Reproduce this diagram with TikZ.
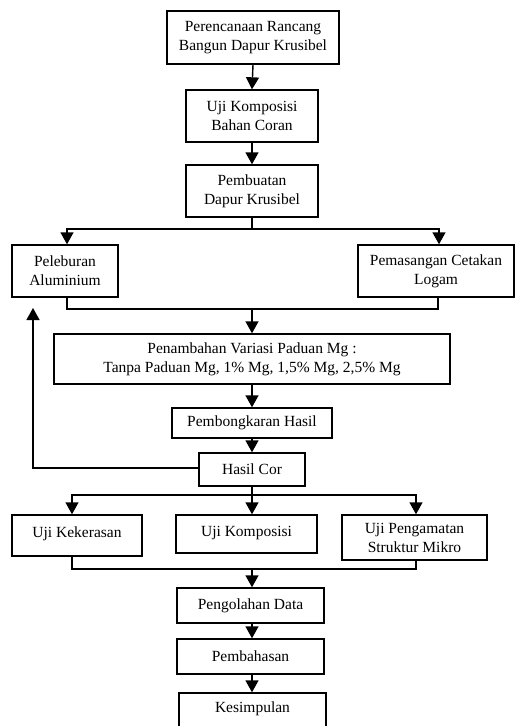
\documentclass[tikz,border=0pt]{standalone}
\usepackage{fontspec}
\setmainfont{Liberation Serif}
\usetikzlibrary{arrows.meta,calc}
\begin{document}
\begin{tikzpicture}[x=1pt,y=-1pt,
  box/.style={draw,line width=1.4pt,rectangle,inner sep=0pt,align=center,
    font=\fontsize{15.5}{19}\selectfont},
  arr/.style={line width=1.4pt,-{Triangle[width=13pt,length=12pt]}},
  ln/.style={line width=1.4pt}]
\useasboundingbox (0,0) rectangle (515,726);
\clip (0,0) rectangle (515,726);
\fill[white] (0,0) rectangle (515,726);
\node[box,minimum width=172pt,minimum height=53pt] (b1) at (253,37.5) {Perencanaan Rancang\\Bangun Dapur Krusibel};
\node[box,minimum width=132pt,minimum height=52pt] (b2) at (252,116) {Uji Komposisi\\Bahan Coran};
\node[box,minimum width=132pt,minimum height=52pt] (b3) at (252,191) {Pembuatan\\Dapur Krusibel};
\node[box,minimum width=106pt,minimum height=52pt] (pel) at (65,271) {Peleburan\\Aluminium};
\node[box,minimum width=156pt,minimum height=52pt] (pem) at (436,271) {Pemasangan Cetakan\\Logam};
\node[box,minimum width=396pt,minimum height=50pt] (pen) at (252,359) {Penambahan Variasi Paduan Mg :\\Tanpa Paduan Mg, 1\% Mg, 1,5\% Mg, 2,5\% Mg};
\node[box,minimum width=160pt,minimum height=30pt] (pbk) at (252,423) {Pembongkaran Hasil};
\node[box,minimum width=106pt,minimum height=33pt] (hc) at (252,469.5) {Hasil Cor};
\node[box,minimum width=130pt,minimum height=41pt,text height=15pt,text depth=12pt] (kek) at (77,535.5) {Uji Kekerasan};
\node[box,minimum width=141pt,minimum height=38pt,text height=15pt,text depth=11pt] (kom) at (246.5,534) {Uji Komposisi};
\node[box,minimum width=145pt,minimum height=45pt] (pgm) at (414.5,537.5) {Uji Pengamatan\\Struktur Mikro};
\node[box,minimum width=147pt,minimum height=35pt] (pd) at (250.5,605.5) {Pengolahan Data};
\node[box,minimum width=147pt,minimum height=35pt] (pb) at (250.5,656.5) {Pembahasan};
\node[box,minimum width=147pt,minimum height=44pt,text height=12pt,text depth=18pt] (ks) at (252.5,715) {Kesimpulan};
% connectors
\draw[arr] (b1.south) -- (b2.north);
\draw[arr] (b2.south) -- (b3.north);
\coordinate (j1) at (252,229);
\draw[ln] (b3.south) -- (j1);
\draw[arr] (j1) -| ($(pel.north)+(2,0)$);
\draw[arr] (j1) -| ($(pem.north)+(3,0)$);
\coordinate (j2) at (252,309);
\draw[ln] ($(pel.south)+(2,0)$) |- (j2) -| ($(pem.south)+(2,0)$);
\draw[arr] (j2) -- (pen.north);
\draw[arr] (pen.south) -- (pbk.north);
\draw[arr] (pbk.south) -- (hc.north);
\coordinate (fb) at (33,308);
\draw[arr] ($(hc.west)+(0,-1.5)$) -| (fb);
\coordinate (j3) at (252,495);
\draw[ln] (hc.south) -- (j3);
\draw[arr] (j3) -| ($(kek.north)+(-5,0)$);
\draw[arr] (j3) -- ($(kom.north)+(5.5,0)$);
\draw[arr] (j3) -| ($(pgm.north)+(1.5,0)$);
\coordinate (j4) at (252,569);
\draw[ln] ($(kek.south)+(-5,0)$) |- (j4) -| ($(pgm.south)+(1.5,0)$);
\draw[arr] (j4) -- ($(pd.north)+(1.5,0)$);
\draw[arr] ($(pd.south)+(1.5,0)$) -- ($(pb.north)+(1.5,0)$);
\draw[arr] ($(pb.south)+(1.5,0)$) -- ($(ks.north)+(-0.5,0)$);
\end{tikzpicture}
\end{document}
